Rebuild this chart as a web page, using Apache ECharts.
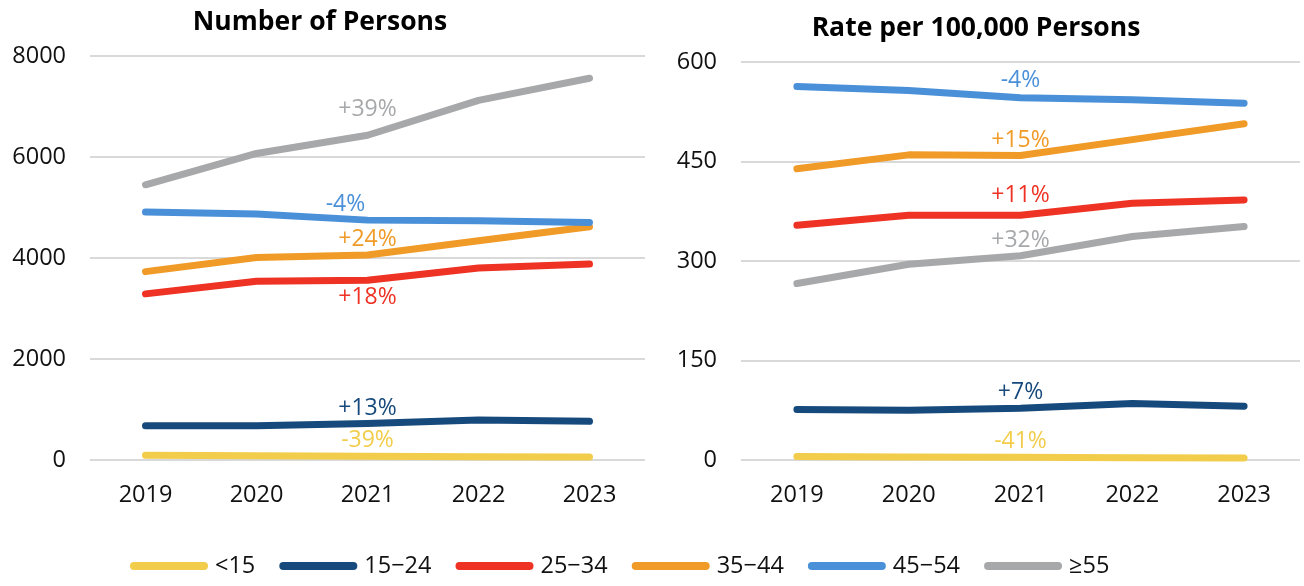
<!DOCTYPE html>
<html>
<head>
<meta charset="utf-8">
<script src="https://cdn.jsdelivr.net/npm/echarts@6/dist/echarts.min.js"></script>
<style>
  html, body { margin: 0; padding: 0; background: #fff; }
  #chart { width: 1304px; height: 586px; }
</style>
</head>
<body>
<div id="chart"></div>
<script>
// 年份
const years = ['2019', '2020', '2021', '2022', '2023'];
const groups = ['<15', '15\u221224', '25\u221234', '35\u221244', '45\u221254', '\u226555'];
const colors = ['#F2CD4B', '#174A7C', '#EE3224', '#F09B27', '#4A90D9', '#A7A8AA'];

// Number of Persons
const countLess15 = [95, 82, 72, 62, 58];
const count15to24 = [680, 678, 722, 792, 765];
const count25to34 = [3290, 3540, 3560, 3800, 3880];
const count35to44 = [3730, 4010, 4060, 4340, 4620];
const count45to54 = [4910, 4870, 4750, 4740, 4705];
const count55plus = [5450, 6070, 6430, 7120, 7560];
const countChange = ['-39%', '+13%', '+18%', '+24%', '-4%', '+39%'];

// Rate per 100,000 Persons
const rateLess15 = [5.1, 4.6, 4.0, 3.4, 3.0];
const rate15to24 = [76, 75, 78, 85, 81];
const rate25to34 = [354, 369, 369, 387, 392];
const rate35to44 = [439, 460, 459, 483, 507];
const rate45to54 = [563, 557, 546, 543, 538];
const rate55plus = [266, 295, 308, 337, 352];
const rateChange = ['-41%', '+7%', '+11%', '+15%', '-4%', '+32%'];

const countTicks = [0, 2000, 4000, 6000, 8000];
const rateTicks = [0, 150, 300, 450, 600];

const countData = [countLess15, count15to24, count25to34, count35to44, count45to54, count55plus];
const rateData = [rateLess15, rate15to24, rate25to34, rate35to44, rate45to54, rate55plus];

const fontFamily = '"Open Sans", "Noto Sans", sans-serif';

// 标签放在2021这个点上；个别标签微调位置
function makeSeries(values, idx, axis, changes, tweak) {
    tweak = tweak || {};
    return {
        name: groups[idx],
        type: 'line',
        xAxisIndex: axis,
        yAxisIndex: axis,
        symbol: 'circle',
        symbolSize: 0,
        showSymbol: true,
        smooth: false,
        lineStyle: { width: 7, color: colors[idx], cap: 'round', join: 'round' },
        itemStyle: { color: colors[idx] },
        z: 2 + idx,
        data: values.map((v, i) => i === 2 ? {
            value: v,
            label: {
                show: true,
                position: tweak.position || 'top',
                distance: tweak.distance != null ? tweak.distance : 4,
                offset: tweak.offset || [0, 0],
                formatter: changes[idx],
                color: colors[idx],
                fontSize: 23,
                fontFamily: fontFamily
            }
        } : v)
    };
}

const countTweaks = [null, null, { position: 'bottom', distance: 6 }, null, { offset: [-22, 0] }, { distance: 14 }];
const rateTweaks = [null, null, { distance: 8 }, null, { distance: 6 }, null];

const series = [];
countData.forEach((vals, i) => series.push(makeSeries(vals, i, 0, countChange, countTweaks[i])));
rateData.forEach((vals, i) => series.push(makeSeries(vals, i, 1, rateChange, rateTweaks[i])));

const axisLabelStyle = { color: '#111', fontSize: 23.5, fontFamily: fontFamily };

const chart = echarts.init(document.getElementById('chart'));
chart.setOption({
    animation: false,
    title: [
        { text: 'Number of Persons', left: 315, top: 4, textAlign: 'center',
          textStyle: { fontSize: 26.5, fontWeight: 'bold', color: '#000', fontFamily: fontFamily } },
        { text: 'Rate per 100,000 Persons', left: 971, top: 10, textAlign: 'center',
          textStyle: { fontSize: 26.5, fontWeight: 'bold', color: '#000', fontFamily: fontFamily } }
    ],
    legend: {
        left: 125,
        bottom: 3,
        itemWidth: 78,
        itemHeight: 9,
        itemGap: 24,
        icon: 'path://M4,0 H74 A4,4 0 0 1 74,8 H4 A4,4 0 0 1 4,0 Z',
        textStyle: { color: '#111', fontSize: 23.5, fontFamily: fontFamily, padding: [0, 0, 0, 2] },
        data: groups
    },
    grid: [
        { left: 90, right: 659, top: 56, bottom: 126 },
        { left: 741, right: 4, top: 62, bottom: 126 }
    ],
    xAxis: [0, 1].map(i => ({
        type: 'category',
        gridIndex: i,
        data: years,
        boundaryGap: true,
        axisLine: { show: false },
        axisTick: { show: false },
        axisLabel: Object.assign({ margin: 23 }, axisLabelStyle)
    })),
    yAxis: [
        { type: 'value', gridIndex: 0, min: countTicks[0], max: countTicks[countTicks.length - 1], interval: 2000 },
        { type: 'value', gridIndex: 1, min: rateTicks[0], max: rateTicks[rateTicks.length - 1], interval: 150 }
    ].map(a => Object.assign(a, {
        axisLine: { show: false },
        axisTick: { show: false },
        splitLine: { lineStyle: { color: '#d9d9d9', width: 2 } },
        axisLabel: Object.assign({ margin: 24, formatter: v => String(v) }, axisLabelStyle)
    })),
    series: series
});
</script>
</body>
</html>
